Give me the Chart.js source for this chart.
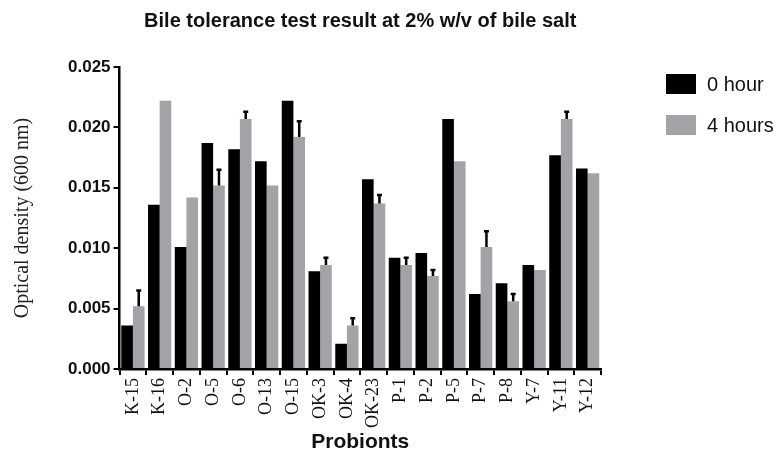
<!DOCTYPE html>
<html>
<head>
<meta charset="utf-8">
<script src="https://cdn.jsdelivr.net/npm/chart.js@4"></script>
<style>
  body { margin: 0; background: #fff; }
  #wrap { width: 783px; height: 453px; position: relative; }
</style>
</head>
<body>
<div id="wrap"><canvas id="myChart"></canvas></div>
<script>
// Strains on the x axis
const probionts = ["K-15", "K-16", "O-2", "O-5", "O-6", "O-13", "O-15", "OK-3", "OK-4",
    "OK-23", "P-1", "P-2", "P-5", "P-7", "P-8", "Y-7", "Y-11", "Y-12"];

// Optical density after 0 hour
const hour0 = [0.0036, 0.0136, 0.0101, 0.0187, 0.0182, 0.0172, 0.0222, 0.0081, 0.0021,
    0.0157, 0.0092, 0.0096, 0.0207, 0.0062, 0.0071, 0.0086, 0.0177, 0.0166];

// Optical density after 4 hours, with the upper error
const hour4 = [0.0052, 0.0222, 0.0142, 0.0152, 0.0207, 0.0152, 0.0192, 0.0086, 0.0036,
    0.0137, 0.0086, 0.0077, 0.0172, 0.0101, 0.0056, 0.0082, 0.0207, 0.0162];
const hour4Err = [0.0013, 0, 0, 0.0013, 0.0006, 0, 0.0013, 0.0006, 0.0006,
    0.0007, 0.0006, 0.0005, 0, 0.0013, 0.0006, 0, 0.0006, 0];

const yTicks = [0, 0.005, 0.010, 0.015, 0.020, 0.025];

// upper error bars on top of the grey bars
const errorBars = {
    id: "errorBars",
    afterDatasetsDraw(chart) {
        const ctx = chart.ctx;
        const y = chart.scales.y;
        chart.data.datasets.forEach((ds, i) => {
            if (!ds.errors) return;
            chart.getDatasetMeta(i).data.forEach((bar, j) => {
                const err = ds.errors[j];
                if (!err) return;
                const top = y.getPixelForValue(ds.data[j] + err);
                ctx.save();
                ctx.strokeStyle = "#000";
                ctx.lineWidth = 2.5;
                ctx.beginPath();
                ctx.moveTo(bar.x, bar.y);
                ctx.lineTo(bar.x, top);
                ctx.moveTo(bar.x - 2.5, top);
                ctx.lineTo(bar.x + 2.5, top);
                ctx.stroke();
                ctx.restore();
            });
        });
    }
};

// legend drawn at the right, like the original
const sideLegend = {
    id: "sideLegend",
    afterDraw(chart) {
        const ctx = chart.ctx;
        ctx.save();
        ctx.font = "20px 'Liberation Sans', Arial, sans-serif";
        ctx.textBaseline = "middle";
        chart.data.datasets.forEach((ds, i) => {
            const top = 74 + i * 41;
            ctx.fillStyle = ds.backgroundColor;
            ctx.fillRect(666, top, 30, 20);
            ctx.fillStyle = "#111";
            ctx.fillText(ds.label, 707, top + 11);
        });
        ctx.restore();
    }
};

new Chart("myChart", {
    type: "bar",
    data: {
        labels: probionts,
        datasets: [{
            label: "0 hour",
            data: hour0,
            backgroundColor: "#000000",
            categoryPercentage: 0.87,
            barPercentage: 1.0
        }, {
            label: "4 hours",
            data: hour4,
            errors: hour4Err,
            backgroundColor: "#a3a3a7",
            categoryPercentage: 0.87,
            barPercentage: 1.0
        }]
    },
    options: {
        responsive: true,
        maintainAspectRatio: false,
        animation: false,
        layout: { padding: { top: 0, left: 11, right: 182, bottom: 0 } },
        plugins: {
            legend: { display: false },
            tooltip: { enabled: false },
            title: {
                display: true,
                fullSize: false,
                text: "Bile tolerance test result at 2% w/v of bile salt",
                color: "#111",
                padding: { top: 9, bottom: 34 },
                font: { family: "'Liberation Sans', Arial, sans-serif", size: 20, weight: "bold" }
            }
        },
        scales: {
            x: {
                grid: { drawOnChartArea: false, color: "#000", lineWidth: 2, tickLength: 6 },
                border: { color: "#000", width: 2.5 },
                ticks: {
                    autoSkip: false,
                    minRotation: 90,
                    maxRotation: 90,
                    color: "#111",
                    padding: 3,
                    font: { family: "'Liberation Serif', 'Times New Roman', serif", size: 18 }
                },
                title: {
                    display: true,
                    text: "Probionts",
                    color: "#111",
                    padding: { top: 1, bottom: 0 },
                    font: { family: "'Liberation Sans', Arial, sans-serif", size: 21, weight: "bold", lineHeight: 1.0 }
                }
            },
            y: {
                min: 0,
                max: 0.025,
                afterBuildTicks: (axis) => { axis.ticks = yTicks.map(v => ({ value: v })); },
                grid: { drawOnChartArea: false, color: "#000", lineWidth: 2, tickLength: 6 },
                border: { color: "#000", width: 2.5 },
                ticks: {
                    color: "#111",
                    padding: 3,
                    callback: (v) => Number(v).toFixed(3),
                    font: { family: "'Liberation Sans', Arial, sans-serif", size: 17, weight: "bold" }
                },
                title: {
                    display: true,
                    text: "Optical density (600 nm)",
                    color: "#222",
                    padding: { top: 0, bottom: 30 },
                    font: { family: "'Liberation Serif', 'Times New Roman', serif", size: 20 }
                }
            }
        }
    },
    plugins: [errorBars, sideLegend]
});
</script>
</body>
</html>
